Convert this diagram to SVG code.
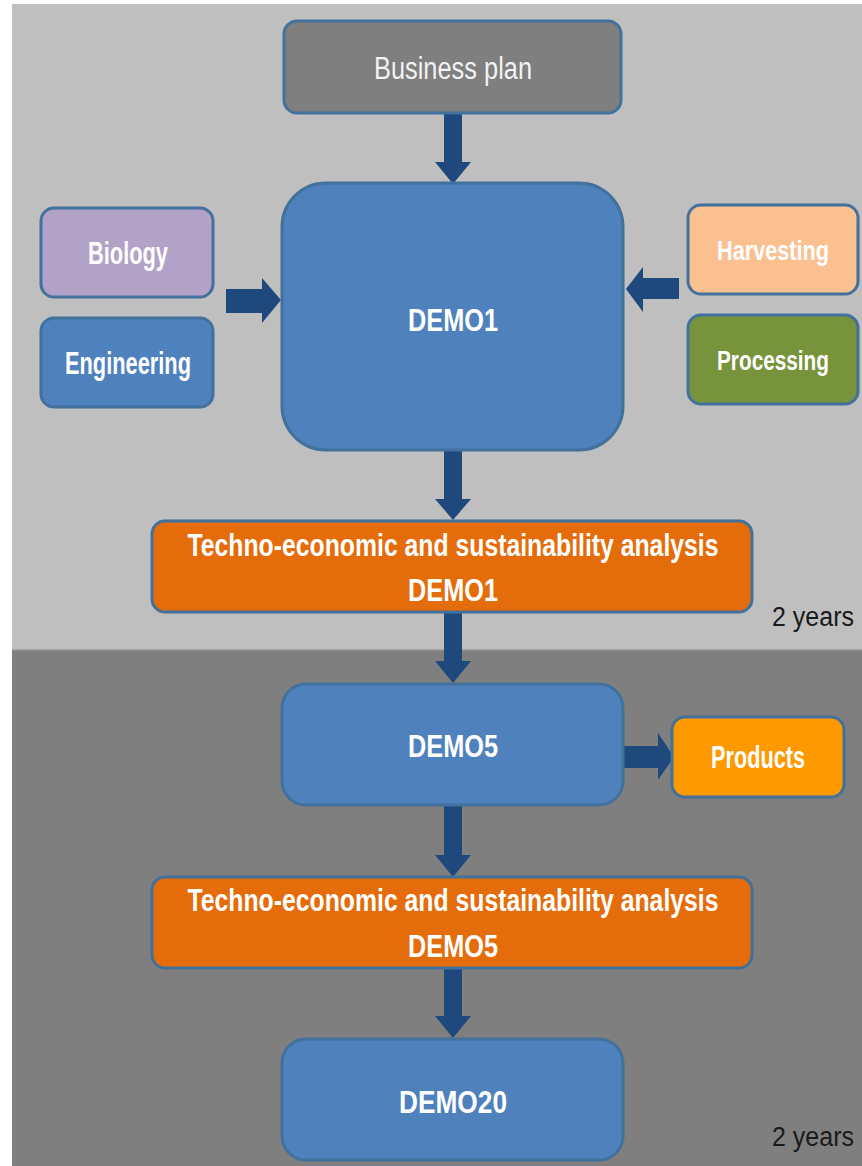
<svg xmlns="http://www.w3.org/2000/svg" width="862" height="1166" viewBox="0 0 862 1166">
  <defs>
    <style>
      .box { stroke: #41719C; stroke-width: 3; }
      .demo { fill: #4F81BD; }
      .tea { fill: #E46C0A; }
      .lbl { font-family: "Liberation Sans", Arial, sans-serif; font-size: 31px; font-weight: bold; fill: #FFFFFF; text-anchor: middle; }
      .side { font-size: 27px; }
      .plain { font-family: "Liberation Sans", Arial, sans-serif; font-size: 31px; fill: #F2F2F2; text-anchor: middle; }
      .note { font-family: "Liberation Sans", Arial, sans-serif; font-size: 27px; fill: #1A1A1A; }
      .arrow { fill: #1F497D; }
    </style>
  </defs>

  <!-- page and phase bands -->
  <rect x="0" y="0" width="862" height="1166" fill="#FFFFFF"/>
  <rect x="12" y="4" width="850" height="646" fill="#BFBFBF"/>
  <rect x="12" y="650" width="850" height="516" fill="#7F7F7F"/>
  <line x1="12" y1="650" x2="862" y2="650" stroke="#999999" stroke-width="1.5"/>

  <!-- connectors: block arrows -->
  <g id="connectors">
    <polygon class="arrow" points="444,113 462,113 462,162 471,162 453,184 435,162 444,162"/>
    <polygon class="arrow" points="226,289 262,289 262,278 281,300 262,323 262,313 226,313"/>
    <polygon class="arrow" points="679,278 643,278 643,267 626,289 643,312 643,299 679,299"/>
    <polygon class="arrow" points="444,451 462,451 462,499 471,499 453,520 435,499 444,499"/>
    <polygon class="arrow" points="444,612 462,612 462,661 471,661 453,683 435,661 444,661"/>
    <polygon class="arrow" points="620,746 658,746 658,733 674,757 658,780 658,768 620,768"/>
    <polygon class="arrow" points="444,806 462,806 462,855 471,855 453,877 435,855 444,855"/>
    <polygon class="arrow" points="444,968 462,968 462,1016 471,1016 453,1038 435,1016 444,1016"/>
  </g>

  <g id="business-plan">
    <rect class="box" x="284" y="21" width="337" height="92" rx="13" fill="#7F7F7F"/>
    <text class="plain" x="453" y="79" textLength="158" lengthAdjust="spacingAndGlyphs">Business plan</text>
  </g>

  <g id="demo1">
    <rect class="box demo" x="282" y="183" width="341" height="267" rx="44"/>
    <text class="lbl" x="453" y="331" textLength="90" lengthAdjust="spacingAndGlyphs">DEMO1</text>
  </g>

  <g id="biology">
    <rect class="box" x="41" y="208" width="172" height="89" rx="13" fill="#B3A2C7"/>
    <text class="lbl" x="128" y="264" textLength="80" lengthAdjust="spacingAndGlyphs">Biology</text>
  </g>

  <g id="engineering">
    <rect class="box demo" x="41" y="318" width="172" height="89" rx="13"/>
    <text class="lbl" x="128" y="374" textLength="126" lengthAdjust="spacingAndGlyphs">Engineering</text>
  </g>

  <g id="harvesting">
    <rect class="box" x="688" y="205" width="170" height="89" rx="13" fill="#FAC090"/>
    <text class="lbl side" x="773" y="260" textLength="112" lengthAdjust="spacingAndGlyphs">Harvesting</text>
  </g>

  <g id="processing">
    <rect class="box" x="688" y="315" width="170" height="89" rx="13" fill="#77933C"/>
    <text class="lbl side" x="773" y="370" textLength="112" lengthAdjust="spacingAndGlyphs">Processing</text>
  </g>

  <g id="tea-demo1">
    <rect class="box tea" x="152" y="521" width="600" height="91" rx="13"/>
    <text class="lbl" x="453" y="556" textLength="531" lengthAdjust="spacingAndGlyphs">Techno-economic and sustainability analysis</text>
    <text class="lbl" x="453" y="601" textLength="90" lengthAdjust="spacingAndGlyphs">DEMO1</text>
  </g>

  <text class="note" x="772" y="626" textLength="82" lengthAdjust="spacingAndGlyphs">2 years</text>

  <g id="demo5">
    <rect class="box demo" x="282" y="684" width="341" height="121" rx="24"/>
    <text class="lbl" x="453" y="757" textLength="90" lengthAdjust="spacingAndGlyphs">DEMO5</text>
  </g>

  <g id="products">
    <rect class="box" x="672" y="717" width="172" height="80" rx="13" fill="#FF9900"/>
    <text class="lbl" x="758" y="768" textLength="94" lengthAdjust="spacingAndGlyphs">Products</text>
  </g>

  <g id="tea-demo5">
    <rect class="box tea" x="152" y="877" width="600" height="91" rx="13"/>
    <text class="lbl" x="453" y="911" textLength="531" lengthAdjust="spacingAndGlyphs">Techno-economic and sustainability analysis</text>
    <text class="lbl" x="453" y="957" textLength="90" lengthAdjust="spacingAndGlyphs">DEMO5</text>
  </g>

  <g id="demo20">
    <rect class="box demo" x="282" y="1039" width="341" height="121" rx="24"/>
    <text class="lbl" x="453" y="1113" textLength="108" lengthAdjust="spacingAndGlyphs">DEMO20</text>
  </g>

  <text class="note" x="772" y="1146" textLength="82" lengthAdjust="spacingAndGlyphs">2 years</text>
</svg>
